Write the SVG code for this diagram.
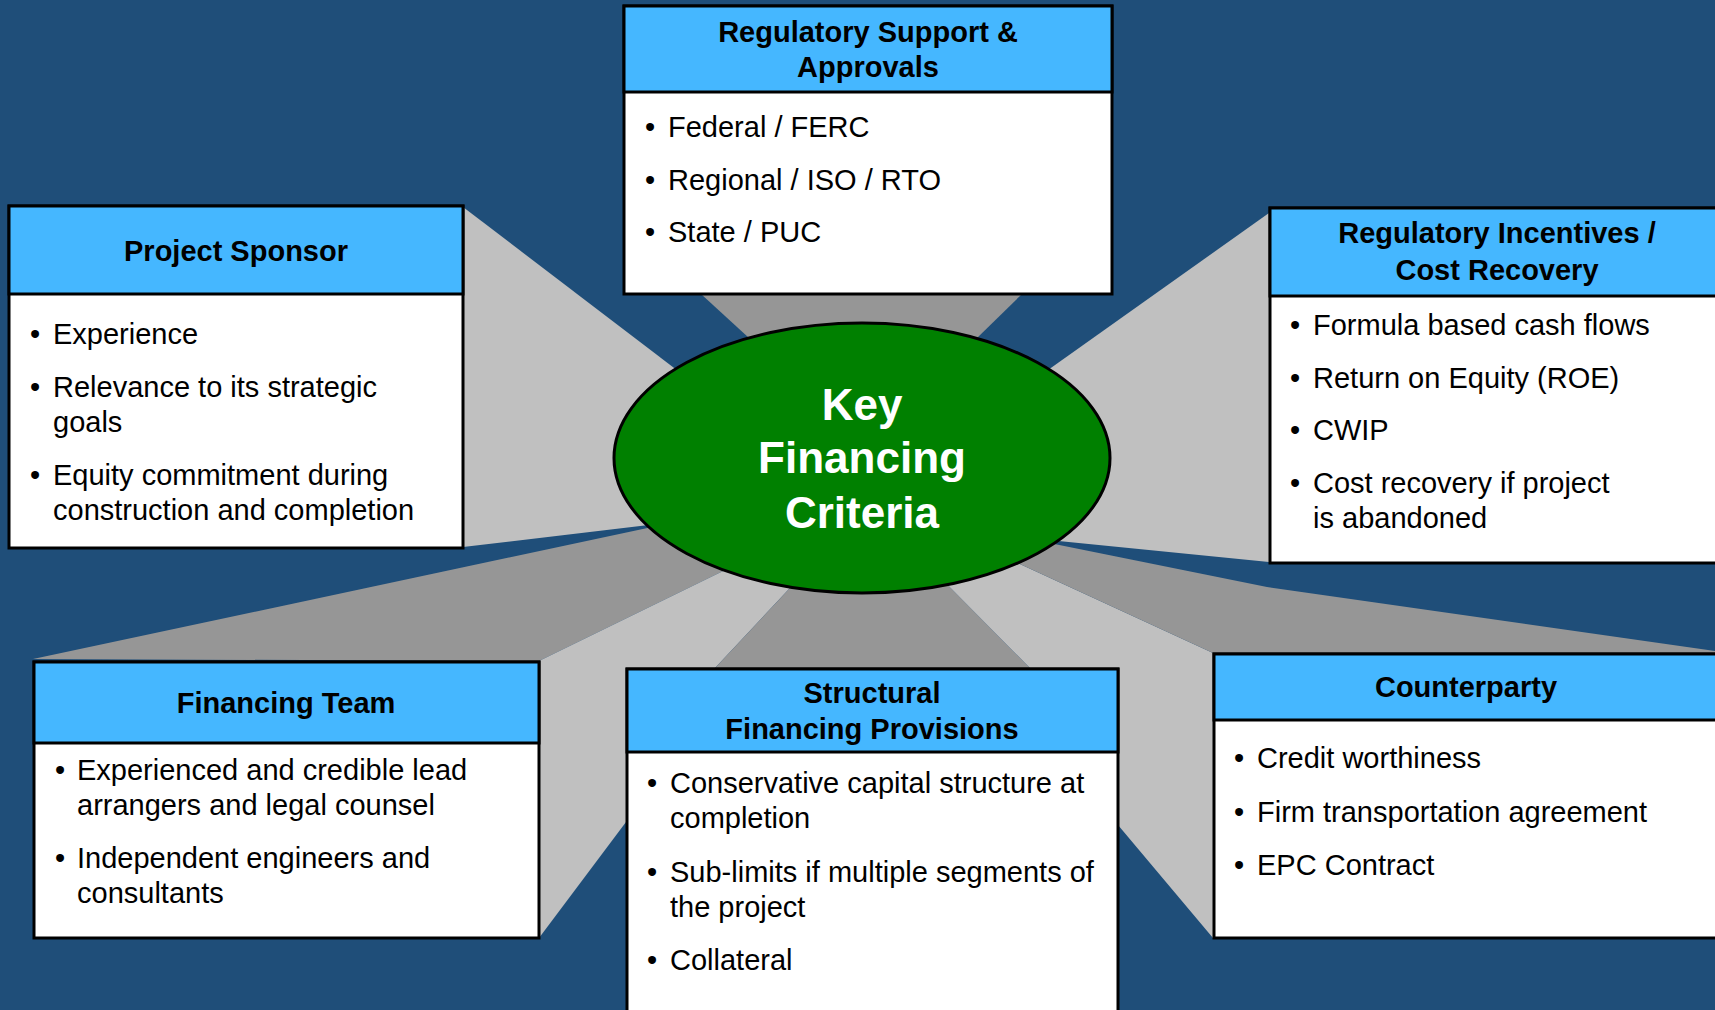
<svg xmlns="http://www.w3.org/2000/svg" width="1715" height="1010" viewBox="0 0 1715 1010">
<style>
.bg{fill:#1F4E79}
.lt{fill:#C0C0C0}
.dk{fill:#969696}
.box{fill:#FFFFFF;stroke:#000;stroke-width:3}
.hdr{fill:#45B7FF;stroke:#000;stroke-width:3}
.ht{font-family:"Liberation Sans",Arial,sans-serif;font-size:29px;font-weight:bold;fill:#000;text-anchor:middle}
.bt{font-family:"Liberation Sans",Arial,sans-serif;font-size:29px;fill:#000}
.ct{font-family:"Liberation Sans",Arial,sans-serif;font-size:44px;font-weight:bold;fill:#FFF;text-anchor:middle}
</style>
<rect class="bg" x="0" y="0" width="1715" height="1010"/>
<g id="connectors">
<polygon class="lt" points="463,207 800,464 800,507 463,547"/>
<polygon class="lt" points="1269,213 920,461 920,527 1269,562"/>
<polygon class="dk" points="701,294 1022,294 934,380 795,380"/>
<polygon class="dk" points="33,659 760,504 760,553 539,661"/>
<polygon class="lt" points="539,661 760,553 820,556 715,668 626,668 626,822 539,938"/>
<polygon class="dk" points="715,668 820,556 919,556 1030,668"/>
<polygon class="lt" points="1030,668 919,556 1000,555 1213,653 1213,938 1118,825 1118,668"/>
<polygon class="dk" points="1000,533 1267,587 1715,651 1715,653 1213,653 1000,555"/>
</g>
<g id="center">
<ellipse cx="862" cy="458" rx="248" ry="135" fill="#008000" stroke="#000" stroke-width="3"/>
<text class="ct" x="862" y="420">Key</text>
<text class="ct" x="862" y="473">Financing</text>
<text class="ct" x="862" y="528">Criteria</text>
</g>
<g id="regulatory-support">
<rect class="box" x="624" y="6" width="488" height="288"/>
<rect class="hdr" x="624" y="6" width="488" height="86"/>
<text class="ht" x="868" y="42">Regulatory Support &amp;</text>
<text class="ht" x="868" y="77">Approvals</text>
<text class="bt" x="645" y="137">•</text><text class="bt" x="668" y="137">Federal / FERC</text>
<text class="bt" x="645" y="190">•</text><text class="bt" x="668" y="190">Regional / ISO / RTO</text>
<text class="bt" x="645" y="242">•</text><text class="bt" x="668" y="242">State / PUC</text>
</g>
<g id="project-sponsor">
<rect class="box" x="9" y="206" width="454" height="342"/>
<rect class="hdr" x="9" y="206" width="454" height="88"/>
<text class="ht" x="236" y="261">Project Sponsor</text>
<text class="bt" x="30" y="344">•</text><text class="bt" x="53" y="344">Experience</text>
<text class="bt" x="30" y="397">•</text><text class="bt" x="53" y="397">Relevance to its strategic</text>
<text class="bt" x="53" y="432">goals</text>
<text class="bt" x="30" y="485">•</text><text class="bt" x="53" y="485">Equity commitment during</text>
<text class="bt" x="53" y="520">construction and completion</text>
</g>
<g id="regulatory-incentives">
<rect class="box" x="1270" y="208" width="460" height="355"/>
<rect class="hdr" x="1270" y="208" width="460" height="88"/>
<text class="ht" x="1497" y="243">Regulatory Incentives /</text>
<text class="ht" x="1497" y="280">Cost Recovery</text>
<text class="bt" x="1290" y="335">•</text><text class="bt" x="1313" y="335">Formula based cash flows</text>
<text class="bt" x="1290" y="388">•</text><text class="bt" x="1313" y="388">Return on Equity (ROE)</text>
<text class="bt" x="1290" y="440">•</text><text class="bt" x="1313" y="440">CWIP</text>
<text class="bt" x="1290" y="493">•</text><text class="bt" x="1313" y="493">Cost recovery if project</text>
<text class="bt" x="1313" y="528">is abandoned</text>
</g>
<g id="financing-team">
<rect class="box" x="34" y="662" width="505" height="276"/>
<rect class="hdr" x="34" y="662" width="505" height="81"/>
<text class="ht" x="286" y="713">Financing Team</text>
<text class="bt" x="55" y="780">•</text><text class="bt" x="77" y="780">Experienced and credible lead</text>
<text class="bt" x="77" y="815">arrangers and legal counsel</text>
<text class="bt" x="55" y="868">•</text><text class="bt" x="77" y="868">Independent engineers and</text>
<text class="bt" x="77" y="903">consultants</text>
</g>
<g id="structural-provisions">
<rect class="box" x="627" y="669" width="491" height="360"/>
<rect class="hdr" x="627" y="669" width="491" height="83"/>
<text class="ht" x="872" y="703">Structural</text>
<text class="ht" x="872" y="739">Financing Provisions</text>
<text class="bt" x="647" y="793">•</text><text class="bt" x="670" y="793">Conservative capital structure at</text>
<text class="bt" x="670" y="828">completion</text>
<text class="bt" x="647" y="882">•</text><text class="bt" x="670" y="882">Sub-limits if multiple segments of</text>
<text class="bt" x="670" y="917">the project</text>
<text class="bt" x="647" y="970">•</text><text class="bt" x="670" y="970">Collateral</text>
</g>
<g id="counterparty">
<rect class="box" x="1214" y="654" width="510" height="284"/>
<rect class="hdr" x="1214" y="654" width="510" height="66"/>
<text class="ht" x="1466" y="697">Counterparty</text>
<text class="bt" x="1234" y="768">•</text><text class="bt" x="1257" y="768">Credit worthiness</text>
<text class="bt" x="1234" y="822">•</text><text class="bt" x="1257" y="822">Firm transportation agreement</text>
<text class="bt" x="1234" y="875">•</text><text class="bt" x="1257" y="875">EPC Contract</text>
</g>
</svg>
